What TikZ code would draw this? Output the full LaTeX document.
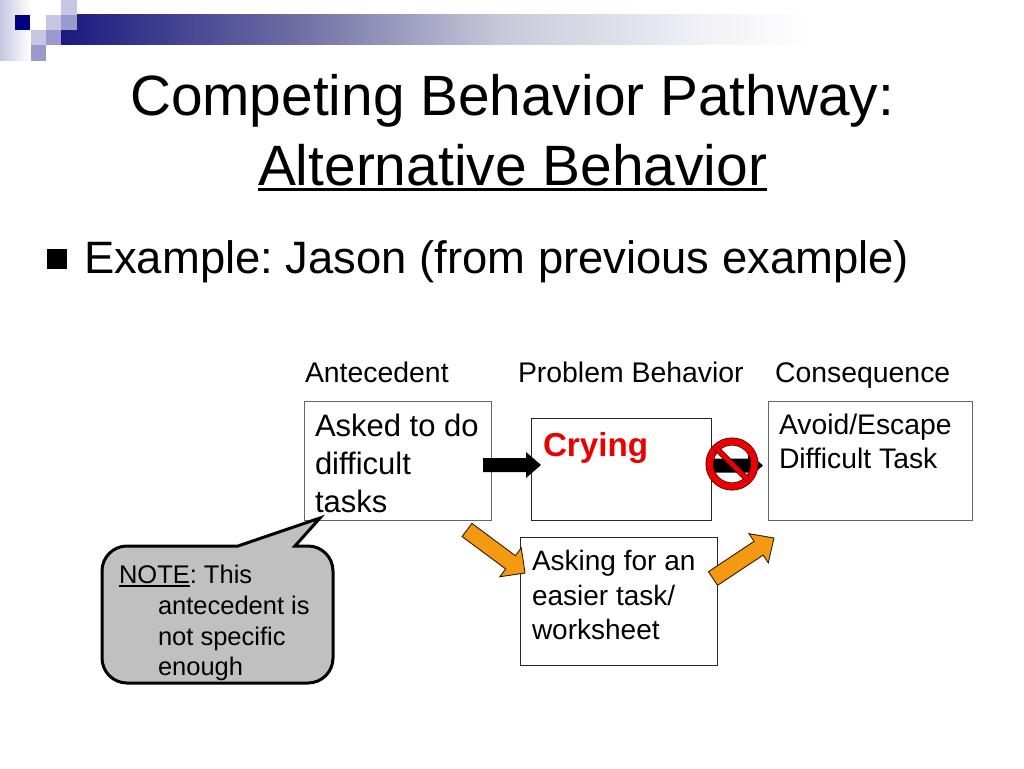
\documentclass[tikz,border=0pt]{standalone}
\usepackage{fontspec}
\setmainfont{Liberation Sans}
\usetikzlibrary{calc,shadings}
\frenchspacing
\definecolor{navy}{HTML}{1A1A80}
\definecolor{deep}{HTML}{000080}
\definecolor{lightsq}{HTML}{C6C6E2}
\definecolor{medsq}{HTML}{9A9ACC}
\definecolor{orangefill}{HTML}{F49A12}
\definecolor{calloutfill}{HTML}{C0C0C0}
\definecolor{barA}{HTML}{6F6FA5}
\definecolor{barB}{HTML}{C8C8DA}
\definecolor{barC}{HTML}{F0F0F6}
\pgfdeclarehorizontalshading{barshade}{100bp}{color(0bp)=(navy); color(25bp)=(navy); color(41bp)=(barA); color(54.3bp)=(barB); color(67.7bp)=(barC); color(75bp)=(white); color(100bp)=(white)}
\newcommand{\fs}[1]{\fontsize{#1}{#1}\selectfont}
\newcommand{\ulbar}[3]{\setbox0=\hbox{#1}\rlap{\rule[-#2pt]{\wd0}{#3pt}}\box0}
\newcommand{\blockarrow}[6]{% style, from, to, shaft half, head length, head half
  \coordinate (h) at ($(#3)!#5pt!(#2)$);
  \draw[#1] ($(#2)!#4pt!90:(#3)$) -- ($(h)!#4pt!90:(#3)$) -- ($(h)!#6pt!90:(#3)$) -- (#3)
    -- ($(h)!#6pt!-90:(#3)$) -- ($(h)!#4pt!-90:(#3)$) -- ($(#2)!#4pt!-90:(#3)$) -- cycle;}
\tikzset{
  txt/.style={anchor=base west,inner sep=0pt,outer sep=0pt,align=left},
  flowbox/.style={rectangle,inner sep=0pt,outer sep=0pt,fill=white,draw=#1,line width=1pt},
  squarelt/.style={fill=lightsq},
  squaremd/.style={fill=medsq},
  blackarrow/.style={fill=black,draw=none},
  orangearrow/.style={fill=orangefill,draw=black!80!orange,line width=0.9pt,line join=miter},
}
\begin{document}
\begin{tikzpicture}[x=1pt,y=-1pt]
\useasboundingbox (0,0) rectangle (1024,768);
\fill[white] (0,0) rectangle (1024,768);
% top-left decoration
\shade[left color=lightsq,right color=white] (0,0) rectangle (30,60);
\fill[white] (31,0) rectangle (61,30);
\shade[shading=barshade] (61,15) rectangle (810,45);
\fill[deep] (15,15) rectangle (30,30);
\fill[squarelt] (46,15) rectangle (61,30);
\fill[squarelt] (61,0) rectangle (77,15);
\fill[squaremd] (61,15) rectangle (77,30);
\fill[squarelt] (31,30) rectangle (46,45);
\fill[squaremd] (46,30) rectangle (61,45);
\fill[squaremd] (31,45) rectangle (46,61);
% title
\node[txt] (t1) at (130,115) {\fs{56.8}Competing Behavior Pathway:};
\node[txt] (t2) at (258,185) {\fs{56.9}\ulbar{Alternative Behavior}{6}{3.2}};
% bullet
\fill[black] (47,249) rectangle (67,269);
\node[txt] (b1) at (84,273) {\fs{45.4}Example: Jason (from previous example)};
% headers
\node[txt] (h1) at (305,382) {\fs{28.4}Antecedent};
\node[txt] (h2) at (518,382) {\fs{28.4}Problem Behavior};
\node[txt] (h3) at (775,382) {\fs{28.4}Consequence};
% boxes
\draw[flowbox=black!60] (304,401) rectangle (491,520);
\draw[flowbox=black!85] (531,418) rectangle (711,520);
\draw[flowbox=black!85] (520,537) rectangle (717,665);
\draw[flowbox=black!60] (768,401) rectangle (972,520);
\coordinate (a1s) at (483,465);
\coordinate (a1e) at (541,465);
\coordinate (a2s) at (710,465.5);
\coordinate (a2e) at (763,465.5);
\blockarrow{blackarrow}{a1s}{a1e}{7}{15}{13}
\blockarrow{blackarrow}{a2s}{a2e}{7}{15}{13}
\coordinate (o1s) at (467,530);
\coordinate (o1e) at (525,573);
\coordinate (o2s) at (713,578.5);
\coordinate (o2e) at (774,538);
\blockarrow{orangearrow}{o1s}{o1e}{8.2}{18}{18}
\blockarrow{orangearrow}{o2s}{o2e}{8.2}{18.5}{17.5}
% no sign
\draw[black!70!red,line width=8pt] (732,464) circle (22.5);
\draw[red!92!black,line width=6.5pt] (732,464) circle (22.5);
\draw[black!70!red,line width=6pt] (716,448) -- (748,480);
\draw[red!92!black,line width=4.5pt] (716,448) -- (748,480);
% box texts
\node[txt] (x1) at (315,436.5) {\fs{31}Asked to do};
\node[txt] (x2) at (315,474) {\fs{31}difficult};
\node[txt] (x3) at (315,512) {\fs{31}tasks};
\node[txt] (c1) at (543,456) {\fs{33.2}\color{red!92!black}\bfseries Crying};
\node[txt] (s1) at (532,570) {\fs{28}Asking for an};
\node[txt] (s2) at (532,605) {\fs{28}easier task/};
\node[txt] (s3) at (532,639) {\fs{28}worksheet};
\node[txt] (v1) at (779,434) {\fs{28.3}Avoid/Escape};
\node[txt] (v2) at (779,468) {\fs{28.3}Difficult Task};
% callout
\draw[fill=calloutfill,draw=black,line width=3pt,line join=miter]
  (127,546) -- (238,546) -- (320,518) -- (295,546) -- (308,546)
  arc[start angle=-90,end angle=0,radius=25] -- (333,658)
  arc[start angle=0,end angle=90,radius=25] -- (127,683)
  arc[start angle=90,end angle=180,radius=25] -- (102,571)
  arc[start angle=180,end angle=270,radius=25] -- cycle;
\node[txt] (n1) at (119,583) {\fs{25.5}\ulbar{NOTE}{3.5}{1.2}: This};
\node[txt] (n2) at (158,614) {\fs{25.5}antecedent is};
\node[txt] (n3) at (158,645) {\fs{25.5}not specific};
\node[txt] (n4) at (158,675) {\fs{25.5}enough};
\end{tikzpicture}
\end{document}
